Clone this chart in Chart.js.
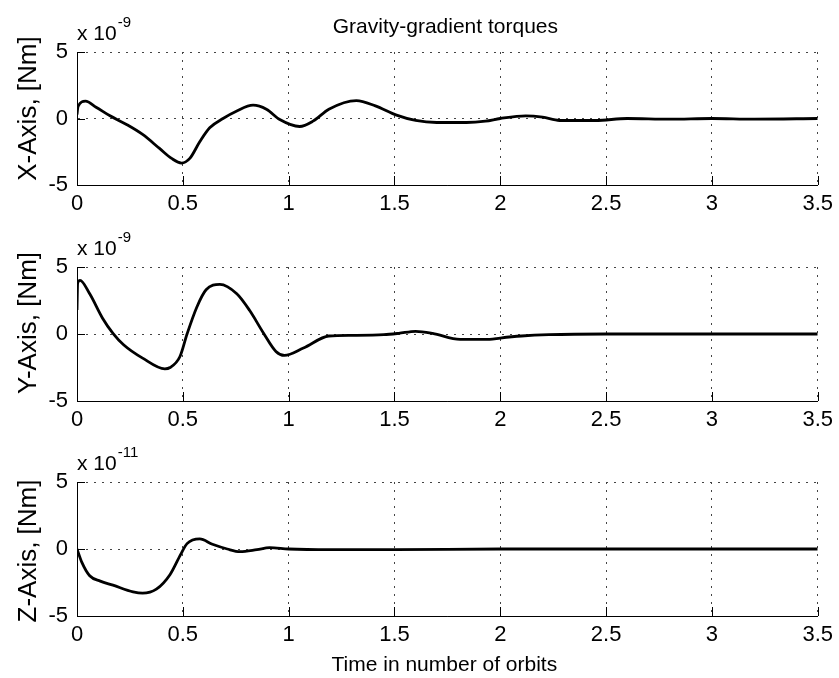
<!DOCTYPE html>
<html>
<head>
<meta charset="utf-8">
<title>Gravity-gradient torques</title>
<script src="https://cdn.jsdelivr.net/npm/chart.js@4.4.1/dist/chart.umd.min.js"></script>
<style>
    body { margin: 0; background: #fff; }
    #wrap { position: relative; width: 839px; height: 678px; }
    canvas { position: absolute; left: 0; }
</style>
</head>
<body>
<div id="wrap">
    <canvas id="plot-x" width="839" height="215" style="top:0"></canvas>
    <canvas id="plot-y" width="839" height="215" style="top:215px"></canvas>
    <canvas id="plot-z" width="839" height="248" style="top:430px"></canvas>
</div>
<script>
// time in orbits, torques (x 1e-9 Nm for X and Y, x 1e-11 Nm for Z)
const timeX = [0, 0.005, 0.04, 0.09, 0.156, 0.234, 0.31, 0.39, 0.447, 0.494, 0.533, 0.58, 0.627, 0.69, 0.753, 0.832, 0.895, 0.958, 1.052, 1.115, 1.19, 1.32, 1.41, 1.51, 1.6, 1.7, 1.84, 1.93, 2.0, 2.12, 2.2, 2.28, 2.45, 2.6, 2.8, 3.0, 3.2, 3.5];
const torqueX = [0.3, 0.9, 1.3, 0.85, 0.2, -0.45, -1.2, -2.25, -3.0, -3.35, -3.0, -1.75, -0.7, 0, 0.55, 1.0, 0.7, -0.08, -0.6, -0.2, 0.7, 1.35, 0.95, 0.25, -0.15, -0.3, -0.3, -0.2, 0.0, 0.2, 0.1, -0.15, -0.15, 0.0, -0.05, 0.0, -0.05, 0.0];

const timeY = [0, 0.003, 0.014, 0.06, 0.12, 0.17, 0.22, 0.31, 0.415, 0.44, 0.486, 0.52, 0.566, 0.61, 0.675, 0.755, 0.816, 0.88, 0.94, 0.98, 1.07, 1.19, 1.3, 1.45, 1.52, 1.6, 1.68, 1.81, 1.95, 2.0, 2.1, 2.23, 2.5, 3.0, 3.5];
const torqueY = [1.8, 3.8, 4.0, 3.0, 1.2, 0.05, -0.8, -1.8, -2.6, -2.5, -1.7, 0, 2.0, 3.3, 3.7, 3.0, 1.75, 0.1, -1.3, -1.6, -1.05, -0.15, -0.1, -0.05, 0.05, 0.2, 0.05, -0.4, -0.4, -0.3, -0.15, -0.05, 0.0, 0.0, 0.0];

const timeZ = [0, 0.023, 0.06, 0.11, 0.17, 0.265, 0.31, 0.375, 0.44, 0.49, 0.52, 0.58, 0.64, 0.71, 0.77, 0.85, 0.91, 1.0, 1.2, 1.5, 2.0, 2.5, 3.0, 3.5];
const torqueZ = [0, -1.0, -2.0, -2.4, -2.7, -3.2, -3.3, -3.0, -1.9, -0.4, 0.4, 0.75, 0.35, 0, -0.2, -0.05, 0.1, 0.0, -0.05, -0.05, 0, 0, 0, 0];

const timeTicks = [0, 0.5, 1, 1.5, 2, 2.5, 3, 3.5];
const torqueTicks = [-5, 0, 5];

const FONT = '"Liberation Sans", Arial, sans-serif';

// matlab style: ticks point into the axes
const inwardTicks = {
    id: 'inwardTicks',
    afterDraw(chart) {
        const { ctx, chartArea: a, scales: { x, y } } = chart;
        ctx.save();
        ctx.strokeStyle = '#000';
        ctx.lineWidth = 1;
        ctx.beginPath();
        x.ticks.forEach(t => {
            const px = Math.round(x.getPixelForValue(t.value)) + 0.5;
            ctx.moveTo(px, a.bottom);
            ctx.lineTo(px, a.bottom - 9);
        });
        y.ticks.forEach(t => {
            const py = Math.round(y.getPixelForValue(t.value)) + 0.5;
            ctx.moveTo(a.left, py);
            ctx.lineTo(a.left + 8, py);
        });
        ctx.stroke();
        ctx.restore();
    }
};

const matlabText = {
    id: 'matlabText',
    afterDraw(chart, args, opts) {
        const { ctx, chartArea: a } = chart;
        const mid = (a.left + a.right) / 2;
        ctx.save();
        ctx.fillStyle = '#000';
        ctx.textBaseline = 'alphabetic';
        if (opts.title) {
            ctx.font = '21px ' + FONT;
            ctx.textAlign = 'center';
            ctx.fillText(opts.title, mid - 2, 33);
        }
        ctx.textAlign = 'left';
        ctx.font = '21px ' + FONT;
        ctx.fillText('x 10', a.left, a.top - 12);
        const w = ctx.measureText('x 10').width;
        ctx.font = '15px ' + FONT;
        ctx.fillText(opts.exponent, a.left + w + 1, a.top - 25);

        ctx.save();
        ctx.translate(36, (a.top + a.bottom) / 2 + opts.ylabelShift);
        ctx.rotate(-Math.PI / 2);
        ctx.textAlign = 'center';
        ctx.font = '26px ' + FONT;
        ctx.fillText(opts.ylabel, 0, 0);
        ctx.restore();

        if (opts.xlabel) {
            ctx.textAlign = 'center';
            ctx.font = '21px ' + FONT;
            ctx.fillText(opts.xlabel, mid - 3, a.bottom + 55);
        }
        ctx.restore();
    }
};

const makePlot = (id, time, torque, plotHeight, text) => {
    const canvas = document.getElementById(id);
    const xHeight = canvas.height - 52 - plotHeight;
    return new Chart(canvas, {
        type: 'line',
        data: {
            datasets: [{
                data: time.map((t, i) => ({ x: t, y: torque[i] })),
                borderColor: '#000',
                borderWidth: 2.8,
                pointRadius: 0,
                cubicInterpolationMode: 'monotone',
                fill: false
            }]
        },
        options: {
            responsive: false,
            animation: false,
            events: [],
            layout: { padding: { top: 52, right: 20, left: 0, bottom: 0 } },
            plugins: {
                legend: { display: false },
                tooltip: { enabled: false },
                matlabText: text
            },
            scales: {
                x: {
                    type: 'linear',
                    min: 0,
                    max: 3.5,
                    afterBuildTicks: s => { s.ticks = timeTicks.map(v => ({ value: v })); },
                    afterFit: s => { s.height = xHeight; },
                    grid: { color: '#444', lineWidth: 1, drawTicks: false },
                    border: { display: true, color: '#000', width: 1, dash: [2, 6] },
                    ticks: { color: '#000', padding: 6, maxRotation: 0, callback: v => String(v), font: { family: FONT, size: 22 } }
                },
                y: {
                    type: 'linear',
                    min: -5,
                    max: 5,
                    afterBuildTicks: s => { s.ticks = torqueTicks.map(v => ({ value: v })); },
                    afterFit: s => { s.width = 77; },
                    grid: { color: '#444', lineWidth: 1, drawTicks: false },
                    border: { display: true, color: '#000', width: 1, dash: [2, 6] },
                    ticks: { color: '#000', padding: 9, callback: v => String(v), font: { family: FONT, size: 22 } }
                }
            }
        },
        plugins: [inwardTicks, matlabText]
    });
};

makePlot('plot-x', timeX, torqueX, 133, {
    title: 'Gravity-gradient torques', exponent: '-9', ylabel: 'X-Axis, [Nm]', ylabelShift: -10
});
makePlot('plot-y', timeY, torqueY, 134, {
    exponent: '-9', ylabel: 'Y-Axis, [Nm]', ylabelShift: -11
});
makePlot('plot-z', timeZ, torqueZ, 134, {
    exponent: '-11', ylabel: 'Z-Axis, [Nm]', ylabelShift: 2, xlabel: 'Time in number of orbits'
});
</script>
</body>
</html>
